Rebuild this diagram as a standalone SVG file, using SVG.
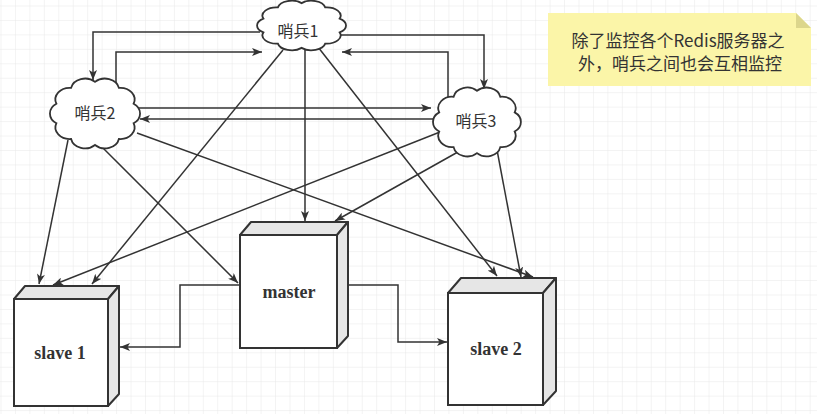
<svg xmlns="http://www.w3.org/2000/svg" width="817" height="414" viewBox="0 0 817 414">
<defs>
<pattern id="grid" x="0.5" y="5.5" width="14.45" height="14.45" patternUnits="userSpaceOnUse">
<path d="M0,0 H14.45 M0,0 V14.45" fill="none" stroke="#e8e8e8" stroke-width="1"/>
</pattern>
<marker id="arr" viewBox="0 0 10 8" refX="10" refY="4" markerWidth="10" markerHeight="8" markerUnits="userSpaceOnUse" orient="auto">
<path d="M0,0 L10,4 L0,8 L2.5,4 Z" fill="#333"/>
</marker>
</defs>
<style>
.cl{fill:#fff;stroke:#333;stroke-width:1.8;}
.ct{font-family:"Noto Sans CJK SC","Liberation Sans",sans-serif;font-size:16px;fill:#333;text-anchor:middle;}
.e{fill:none;stroke:#333;stroke-width:1.5;marker-end:url(#arr);}
.front{fill:#fff;stroke:#333;stroke-width:2;}
.side{fill:#e6e6e6;stroke:#333;stroke-width:2;stroke-linejoin:round;}
.bt{font-family:"Liberation Serif",serif;font-weight:bold;font-size:18px;fill:#333;text-anchor:middle;}
.nt{font-family:"Noto Sans CJK SC","Liberation Sans",sans-serif;font-size:17px;fill:#333;text-anchor:middle;}
</style>
<rect width="817" height="414" fill="#fff"/>
<rect width="817" height="414" fill="url(#grid)"/>

<g id="connectors">
<path class="e" d="M260,32 H93 V80"/>
<path class="e" d="M116,86 V52 H262"/>
<path class="e" d="M338,35 H484 V89"/>
<path class="e" d="M448,98 V52 H342"/>
<path class="e" d="M138,108 H431"/>
<path class="e" d="M434,119 H140"/>
<path class="e" d="M68,140 L39,284"/>
<path class="e" d="M100,145 L238,283"/>
<path class="e" d="M137,133 L533,277"/>
<path class="e" d="M283,50 L92,284"/>
<path class="e" d="M305,48 V221"/>
<path class="e" d="M318,47 L497,276"/>
<path class="e" d="M440,132 L53,285"/>
<path class="e" d="M465,148 L335,221"/>
<path class="e" d="M497,150 L521,277"/>
<path class="e" d="M240,285 H180 V347 H120"/>
<path class="e" d="M348,285 H398 V342 H447"/>
</g>

<g id="sentinel1">
<path class="cl" d="M301.6,3.1 A14.07,8.26 0 0 1 325.2,7.4 A14.07,8.26 0 0 1 339.7,18.6 A14.07,8.26 0 0 1 339.7,32.4 A14.07,8.26 0 0 1 325.2,43.6 A14.07,8.26 0 0 1 301.6,47.9 A14.07,8.26 0 0 1 277.9,43.6 A14.07,8.26 0 0 1 263.4,32.4 A14.07,8.26 0 0 1 263.4,18.6 A14.07,8.26 0 0 1 277.9,7.4 A14.07,8.26 0 0 1 301.6,3.1 Z"/>
<text class="ct" x="298" y="37">哨兵1</text>
</g>
<g id="sentinel2">
<path class="cl" d="M95,81.9 A14.22,11.63 0 0 1 118.9,87.9 A14.22,11.63 0 0 1 133.6,103.7 A14.22,11.63 0 0 1 133.6,123.2 A14.22,11.63 0 0 1 118.9,139 A14.22,11.63 0 0 1 95,145 A14.22,11.63 0 0 1 71.1,139 A14.22,11.63 0 0 1 56.4,123.2 A14.22,11.63 0 0 1 56.4,103.7 A14.22,11.63 0 0 1 71.1,87.9 A14.22,11.63 0 0 1 95,81.9 Z"/>
<text class="ct" x="95" y="119">哨兵2</text>
</g>
<g id="sentinel3">
<path class="cl" d="M477,90.8 A13.9,11.47 0 0 1 500.3,96.8 A13.9,11.47 0 0 1 514.7,112.4 A13.9,11.47 0 0 1 514.7,131.5 A13.9,11.47 0 0 1 500.3,147.1 A13.9,11.47 0 0 1 477,153.1 A13.9,11.47 0 0 1 453.6,147.1 A13.9,11.47 0 0 1 439.2,131.5 A13.9,11.47 0 0 1 439.2,112.4 A13.9,11.47 0 0 1 453.6,96.8 A13.9,11.47 0 0 1 477,90.8 Z"/>
<text class="ct" x="476" y="127">哨兵3</text>
</g>

<g id="master">
<path class="side" d="M240,235 L251,222 L348,222 L337,235 Z"/>
<path class="side" d="M337,235 L348,222 L348,336 L337,348 Z"/>
<rect class="front" x="240" y="235" width="97" height="113"/>
<text class="bt" x="289" y="298">master</text>
</g>
<g id="slave1">
<path class="side" d="M14,299 L25,286 L119,286 L108,299 Z"/>
<path class="side" d="M108,299 L119,286 L119,394 L108,406 Z"/>
<rect class="front" x="14" y="299" width="94" height="107"/>
<text class="bt" x="60" y="359">slave 1</text>
</g>
<g id="slave2">
<path class="side" d="M448,293 L461,278 L556,278 L543,293 Z"/>
<path class="side" d="M543,293 L556,278 L556,391 L543,405 Z"/>
<rect class="front" x="448" y="293" width="95" height="112"/>
<text class="bt" x="496" y="355">slave 2</text>
</g>

<g id="note">
<path d="M548,13 H796 L811,28 V86 H548 Z" fill="#fbf5a8"/>
<path d="M796,13 L811,28 H796 Z" fill="#dcd68c"/>
<text class="nt" x="678" y="47">除了监控各个Redis服务器之</text>
<text class="nt" x="680" y="70">外，哨兵之间也会互相监控</text>
</g>
</svg>
